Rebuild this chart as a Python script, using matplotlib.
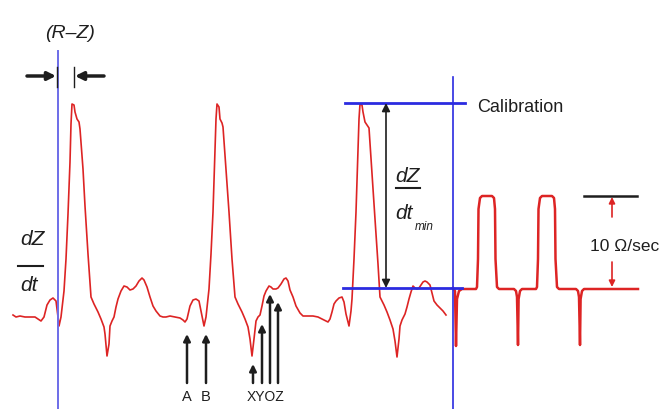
import matplotlib
matplotlib.use("Agg")
import matplotlib.pyplot as plt

plt.rcParams['font.family'] = ['Liberation Sans', 'DejaVu Sans']

# impedance cardiogram trace (x = time, y = screen level, down is positive)
trace_x = [13, 16, 20, 25, 30, 35, 38, 41, 44, 47, 50, 53, 56, 58, 59, 61, 64, 66, 68, 70,
           71, 72, 74, 75, 77, 79, 80, 83, 85, 88, 91, 94, 98, 101, 104, 105, 107, 109, 110, 112,
           114, 116, 118, 121, 124, 127, 130, 133, 136, 139, 142, 144, 147, 150, 153, 156, 160, 163, 166, 170,
           175, 180, 183, 185, 187, 190, 193, 196, 199, 201, 204, 206, 209, 211, 213, 215, 216, 217, 219, 220,
           222, 223, 226, 229, 232, 235, 238, 242, 245, 248, 250, 252, 254, 256, 258, 260, 262, 264, 266, 269,
           271, 273, 276, 278, 281, 284, 286, 288, 290, 293, 296, 300, 303, 308, 313, 318, 322, 326, 328, 330,
           332, 334, 336, 339, 342, 344, 346, 349, 351, 352, 354, 356, 358, 359, 360, 362, 363, 365, 367, 369,
           372, 375, 378, 380, 384, 387, 390, 393, 395, 397, 399, 400, 402, 405, 407, 409, 411, 413, 415, 417,
           419, 421, 423, 425, 427, 430, 432, 434, 437, 440, 443, 446]
trace_y = [316, 318, 317, 318, 318, 318, 320, 322, 318, 306, 301, 299, 302, 318, 327, 318, 292, 260, 215, 163,
           125, 105, 106, 113, 120, 123, 130, 170, 207, 255, 298, 305, 313, 320, 328, 335, 357, 345, 327, 322,
           318, 308, 300, 292, 287, 288, 291, 290, 287, 282, 279, 281, 288, 298, 307, 312, 317, 318, 318, 317,
           318, 319, 321, 323, 320, 307, 301, 300, 302, 312, 327, 318, 290, 255, 213, 150, 120, 105, 108, 120,
           124, 128, 170, 213, 260, 298, 305, 313, 320, 328, 340, 357, 340, 322, 318, 316, 307, 297, 292, 287,
           288, 290, 290, 289, 285, 280, 279, 282, 291, 298, 307, 314, 317, 317, 317, 318, 320, 322, 323, 320,
           313, 305, 302, 299, 298, 303, 315, 327, 312, 300, 260, 213, 150, 120, 105, 106, 113, 123, 126, 129,
           175, 220, 265, 298, 306, 313, 321, 330, 342, 358, 340, 327, 321, 315, 308, 300, 293, 287, 289, 290,
           289, 286, 283, 282, 283, 286, 294, 302, 306, 309, 312, 316]

# calibration pulses after the trace
cal_x = [453, 455, 456, 457, 459, 462, 476, 477, 478, 478.5, 480, 482, 492, 494, 495, 495.5, 497, 499,
         514, 516, 517, 518, 518.6, 520, 522, 536, 537, 538, 538.5, 540, 542, 552, 554, 555, 555.5, 557, 559,
         576, 578, 579, 580, 580.6, 582, 584, 638]
cal_y = [289, 292, 347, 300, 292, 290, 290, 288, 260, 210, 199, 197, 197, 199, 210, 260, 288, 290,
         290, 292, 298, 346, 300, 292, 290, 290, 288, 260, 210, 199, 197, 197, 199, 210, 260, 288, 290,
         290, 292, 298, 346, 300, 292, 290, 290]

# fiducial points below the second beat
point_x = [187, 206, 253, 262, 270, 278]
point_tip_y = [335, 335, 365, 325, 295, 303]
single_labels = ['A', 'B']
single_x = [187, 206]
group_label = 'XYOZ'
group_x = 266

red = '#dd2424'
ink = '#1e1e1e'
blue = '#2b2be0'

fig = plt.figure(figsize=(6.72, 4.10), dpi=100)
ax = fig.add_axes([0, 0, 1, 1])
ax.set_xlim(0, 672)
ax.set_ylim(410, 0)
ax.axis('off')

# signal
ax.plot(trace_x, trace_y, color=red, lw=1.2, solid_joinstyle='round')
ax.plot(cal_x, cal_y, color=red, lw=1.8, solid_joinstyle='round')

# blue guide lines
ax.plot([58, 58], [52, 410], color='#6c6ce8', lw=1.4)
ax.plot([453, 453], [78, 410], color=blue, lw=1.2)
ax.plot([345, 465], [104, 104], color=blue, lw=2)
ax.plot([343, 462], [289, 289], color=blue, lw=2)

# R-Z interval
ax.text(70, 33, '(R\u2013Z)', ha='center', va='center', fontsize=14, style='italic', color=ink)
ax.plot([57, 57], [68, 88], color=ink, lw=1)
ax.plot([74, 74], [68, 88], color=ink, lw=1)
ax.annotate('', xy=(56, 77), xytext=(27, 77),
            arrowprops=dict(arrowstyle='-|>', lw=2.5, color=ink, mutation_scale=12, shrinkA=0, shrinkB=0))
ax.annotate('', xy=(75, 77), xytext=(104, 77),
            arrowprops=dict(arrowstyle='-|>', lw=2.5, color=ink, mutation_scale=12, shrinkA=0, shrinkB=0))

# dZ/dt axis label
ax.text(32, 240, 'dZ', ha='center', va='center', fontsize=15, style='italic', color=ink)
ax.plot([18, 43], [267, 267], color=ink, lw=1.5)
ax.text(29, 286, 'dt', ha='center', va='center', fontsize=15, style='italic', color=ink)

# fiducial point arrows
for px, tip in zip(point_x, point_tip_y):
    ax.annotate('', xy=(px, tip), xytext=(px, 384),
                arrowprops=dict(arrowstyle='-|>', lw=1.8, color=ink, mutation_scale=10, shrinkA=0, shrinkB=0))
for lab, px in zip(single_labels, single_x):
    ax.text(px, 397, lab, ha='center', va='center', fontsize=10.5, color=ink)
ax.text(group_x, 397, group_label, ha='center', va='center', fontsize=10, color=ink)

# dZ/dt min amplitude
ax.annotate('', xy=(386, 104), xytext=(386, 289),
            arrowprops=dict(arrowstyle='<|-|>', lw=1.2, color=ink, mutation_scale=12, shrinkA=0, shrinkB=0))
ax.text(407, 177, 'dZ', ha='center', va='center', fontsize=15, style='italic', color=ink)
ax.plot([396, 420], [189, 189], color=ink, lw=1.5)
ax.text(404, 214, 'dt', ha='center', va='center', fontsize=15, style='italic', color=ink)
ax.text(424, 227, 'min', ha='center', va='center', fontsize=8.5, style='italic', color=ink)

ax.text(477, 108, 'Calibration', ha='left', va='center', fontsize=13, color=ink)

# calibration scale
ax.plot([584, 637], [197, 197], color=ink, lw=1.8)
ax.annotate('', xy=(612, 198), xytext=(612, 218),
            arrowprops=dict(arrowstyle='-|>', lw=1.2, color=red, mutation_scale=9, shrinkA=0, shrinkB=0))
ax.annotate('', xy=(612, 288), xytext=(612, 263),
            arrowprops=dict(arrowstyle='-|>', lw=1.2, color=red, mutation_scale=9, shrinkA=0, shrinkB=0))
ax.text(625, 247, '10 \u03a9/sec', ha='center', va='center', fontsize=12.5, color=ink)

fig.savefig('out.png', dpi=100, facecolor='white')
